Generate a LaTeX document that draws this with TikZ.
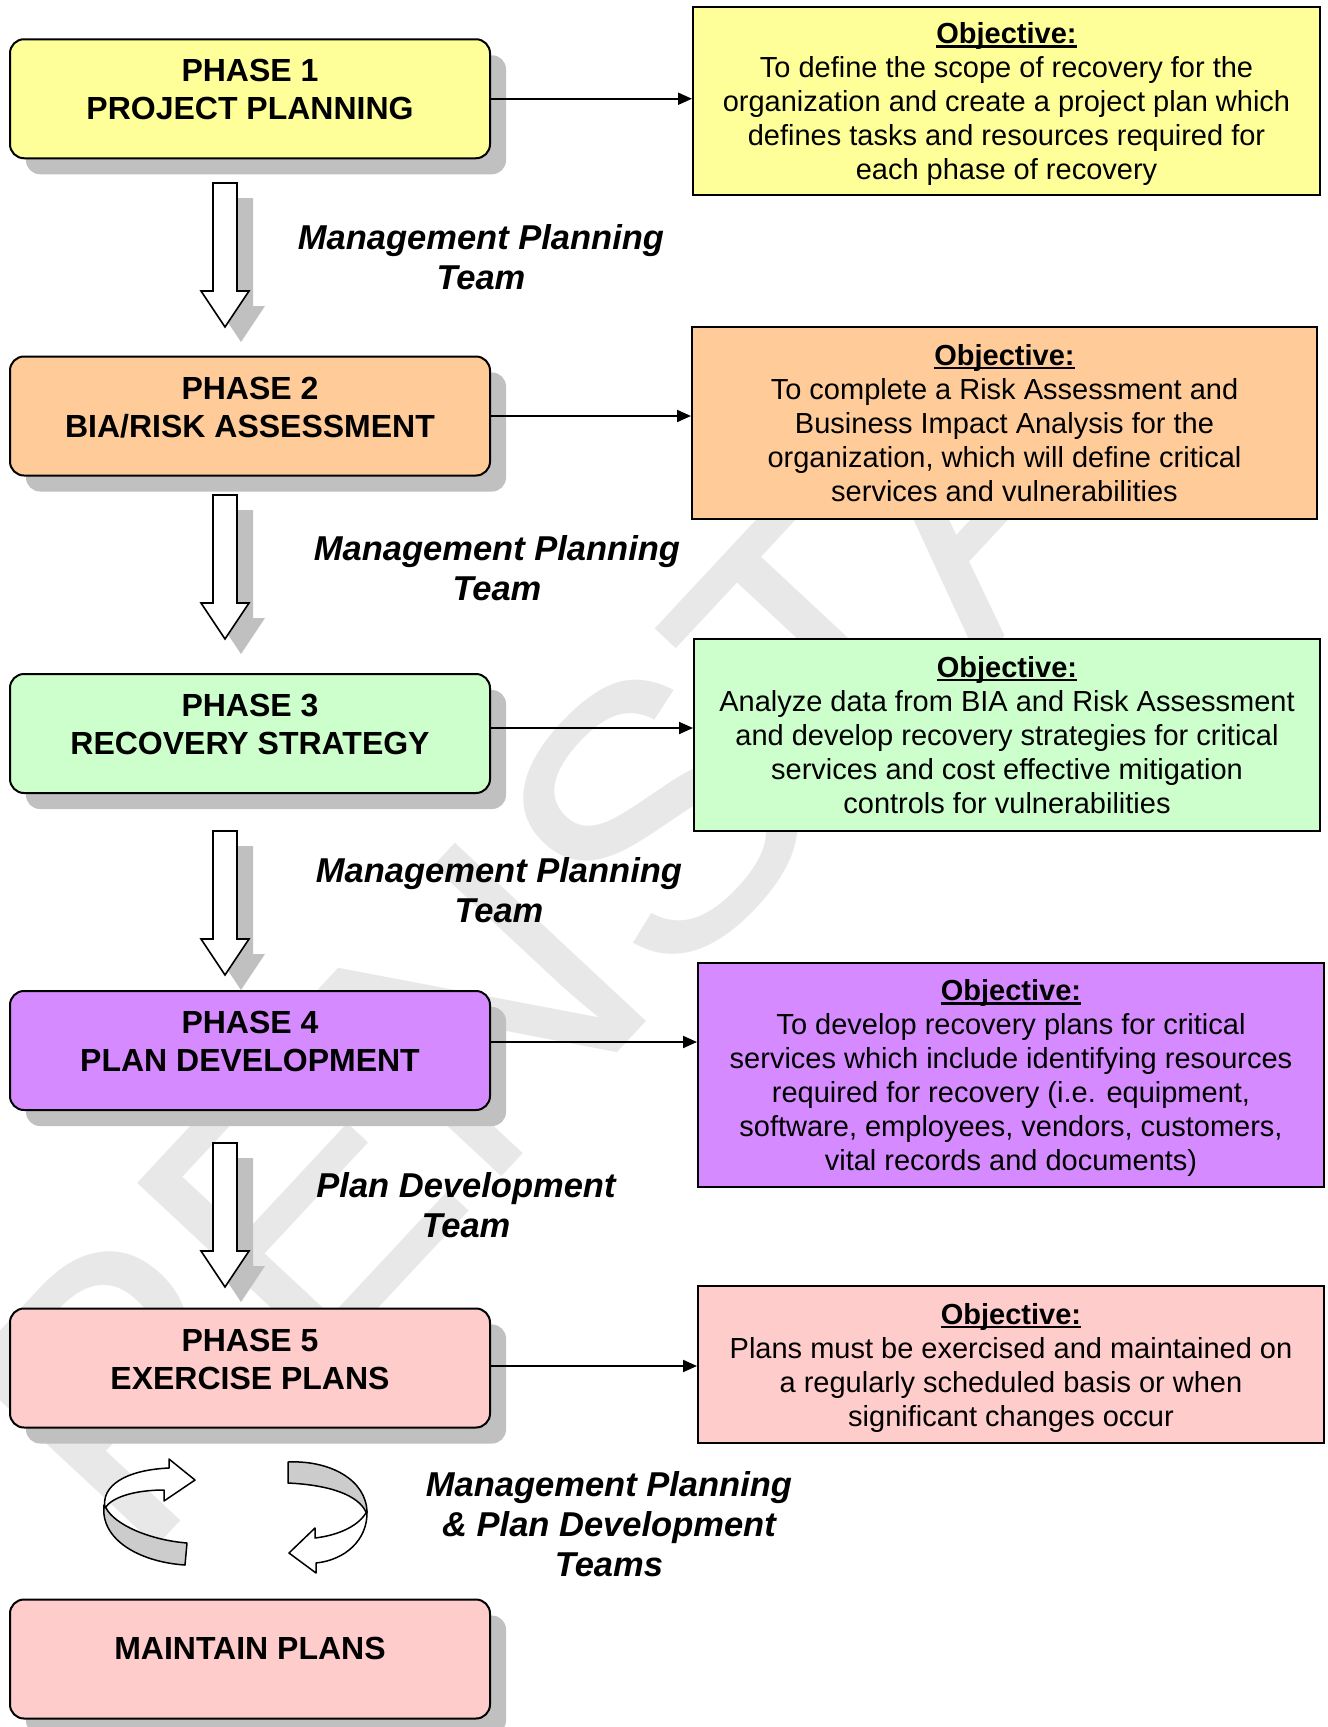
\documentclass[tikz,border=0pt]{standalone}
\usepackage{fontspec}
\setmainfont{Liberation Sans}
\usetikzlibrary{arrows.meta,shadows}

\definecolor{yel}{HTML}{FFFF99}
\definecolor{ora}{HTML}{FFCC99}
\definecolor{grn}{HTML}{CCFFCC}
\definecolor{pur}{HTML}{D68AFF}
\definecolor{pnk}{HTML}{FFCCCC}
\definecolor{shd}{HTML}{C0C0C0}
\definecolor{ribbon}{HTML}{CCCCCC}
\definecolor{wmark}{HTML}{E8E8E8}

\newcommand{\objhead}{\setbox0=\hbox{\bfseries Objective:}\makebox[0pt][l]{\rule[-4pt]{\wd0}{2.4pt}}\box0}

\begin{document}
\begin{tikzpicture}[x=1pt,y=-1pt,
  phasebox/.style={draw, line width=2pt, rounded corners=14pt,
    minimum width=480pt, minimum height=119pt, inner sep=0pt, align=center,
    font=\fontsize{32}{38}\selectfont\bfseries, text depth=18pt,
    general shadow={fill=shd, draw=none, shadow xshift=16pt, shadow yshift=-16pt}},
  objbox/.style={draw, line width=2pt, inner sep=0pt, align=center,
    font=\fontsize{29}{34}\selectfont},
  teamlbl/.style={align=center, inner sep=0pt,
    font=\fontsize{34.5}{40}\selectfont\bfseries\itshape},
  link/.style={line width=2pt, -{Triangle[length=14pt,width=12pt]}},
  ribbonline/.style={line width=1.5pt, line join=round},
  dnarrow/.pic={
    \fill[shd] (4,15) -- (28,15) -- (28,123) -- (40,123) -- (16,159) -- (-8,123) -- (4,123) -- cycle;
    \draw[line width=1.6pt, fill=white] (-12,0) -- (12,0) -- (12,108) -- (24,108) -- (0,144) -- (-24,108) -- (-12,108) -- cycle;
  }]
\useasboundingbox (0,0) rectangle (1328,1727);
\fill[white] (0,0) rectangle (1328,1727);

% watermark
\node[rotate=47, anchor=base west, inner sep=0pt, text=wmark,
  font=\fontsize{380}{380}\selectfont] (wm) at (135,1570) {PENSTA};

% phase boxes
\node[phasebox, fill=yel] (p1) at (250,98.75) {PHASE 1\\PROJECT PLANNING};
\node[phasebox, fill=ora] (p2) at (250,416) {PHASE 2\\BIA/RISK ASSESSMENT};
\node[phasebox, fill=grn] (p3) at (250,733.5) {PHASE 3\\RECOVERY STRATEGY};
\node[phasebox, fill=pur] (p4) at (250,1050.5) {PHASE 4\\PLAN DEVELOPMENT};
\node[phasebox, fill=pnk] (p5) at (250,1368) {PHASE 5\\EXERCISE PLANS};
\node[phasebox, fill=pnk, text depth=22pt] (pm) at (250,1659) {MAINTAIN PLANS};

% objective boxes
\node[objbox, fill=yel, minimum width=627pt, minimum height=188pt, text depth=-8pt] (o1) at (1006.5,101)
  {\objhead\\To define the scope of recovery for the\\organization and create a project plan which\\defines tasks and resources required for\\each phase of recovery};
\node[objbox, fill=ora, minimum width=625pt, minimum height=192pt] (o2) at (1004.5,423)
  {\objhead\\To complete a Risk Assessment and\\Business Impact Analysis for the\\organization, which will define critical\\services and vulnerabilities};
\node[objbox, fill=grn, minimum width=626pt, minimum height=192pt] (o3) at (1007,735)
  {\objhead\\Analyze data from BIA and Risk Assessment\\and develop recovery strategies for critical\\services and cost effective mitigation\\controls for vulnerabilities};
\node[objbox, fill=pur, minimum width=626pt, minimum height=224pt, text depth=0pt] (o4) at (1011,1075)
  {\objhead\\To develop recovery plans for critical\\services which include identifying resources\\required for recovery (i.e. equipment,\\software, employees, vendors, customers,\\vital records and documents)};
\node[objbox, fill=pnk, minimum width=626pt, minimum height=157pt, text depth=0pt] (o5) at (1011,1364.5)
  {\objhead\\Plans must be exercised and maintained on\\a regularly scheduled basis or when\\significant changes occur};

% horizontal connectors
\path (p1.east) coordinate (s1);
\path (p2.east) coordinate (s2);
\path ([yshift=5.5pt]p3.east) coordinate (s3);
\path ([yshift=8.5pt]p4.east) coordinate (s4);
\path ([yshift=2pt]p5.east) coordinate (s5);
\draw[link] (s1) -- (s1 -| o1.west);
\draw[link] (s2) -- (s2 -| o2.west);
\draw[link] (s3) -- (s3 -| o3.west);
\draw[link] (s4) -- (s4 -| o4.west);
\draw[link] (s5) -- (s5 -| o5.west);

% block arrows between phases
\pic at (225,183) {dnarrow};
\pic at (225,495) {dnarrow};
\pic at (225,831) {dnarrow};
\pic at (225,1143) {dnarrow};

% team labels
\node[teamlbl] (t1) at (481,257) {Management Planning\\Team};
\node[teamlbl] (t2) at (497,568) {Management Planning\\Team};
\node[teamlbl] (t3) at (499,890) {Management Planning\\Team};
\node[teamlbl] (t4) at (466,1205) {Plan Development\\Team};
\node[teamlbl] (t5) at (609,1524) {Management Planning\\\& Plan Development\\Teams};

% circular arrows
\draw[ribbonline, fill=ribbon] (104,1505) .. controls (100,1540) and (140,1562) .. (185,1565)
  -- (187,1543) .. controls (150,1540) and (115,1525) .. (106,1508) -- cycle;
\draw[ribbonline, fill=white] (105,1508) .. controls (101,1486) and (125,1470) .. (169,1468)
  -- (169,1459) -- (195,1480) -- (164,1501) -- (164,1490)
  .. controls (135,1490) and (112,1497) .. (105,1508) -- cycle;
\draw[ribbonline, fill=ribbon] (288,1462) .. controls (330,1460) and (367,1480) .. (367,1513)
  -- (366,1512) .. controls (358,1495) and (330,1485) .. (288,1483) -- cycle;
\draw[ribbonline, fill=white] (367,1511) .. controls (368,1540) and (345,1560) .. (316,1563)
  -- (316,1573) -- (289,1553) -- (315,1528) -- (315,1538)
  .. controls (340,1535) and (360,1525) .. (367,1511) -- cycle;
\end{tikzpicture}
\end{document}
